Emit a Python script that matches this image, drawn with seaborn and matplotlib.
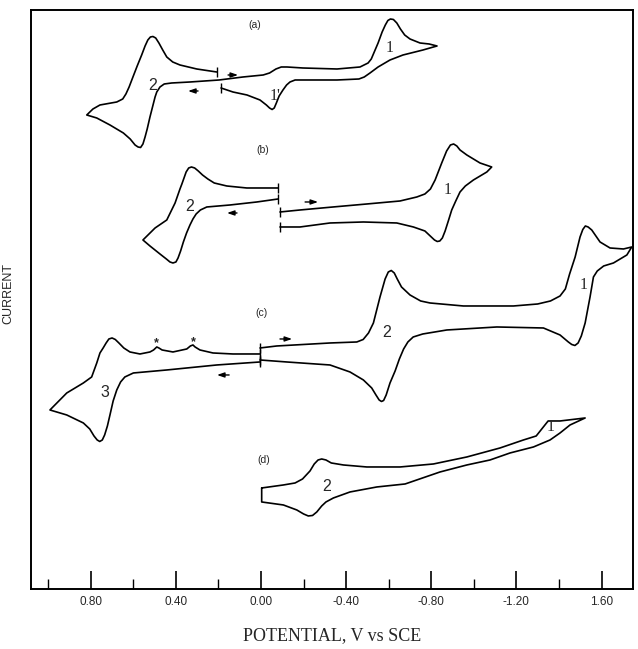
import matplotlib
matplotlib.use("Agg")
import matplotlib.pyplot as plt
import seaborn as sns

# Potentials (V vs SCE) and current (arbitrary units)

# (a) one continuous trace: lower-right branch -> peak 1 -> back -> wave 2 loop
a_E = [0.188, 0.132, 0.066, 0.005, -0.025, -0.040, -0.052, -0.062, -0.072, -0.085, -0.103,
       -0.120, -0.136, -0.160, -0.197,
       -0.357, -0.460, -0.485, -0.512, -0.550, -0.606, -0.667, -0.761, -0.810, -0.827,
       -0.790, -0.747, -0.700, -0.675, -0.655, -0.638, -0.622, -0.608, -0.596, -0.584,
       -0.569, -0.550, -0.536, -0.518, -0.503, -0.465,
       -0.357, -0.197, -0.122, -0.095, -0.070, -0.040, -0.010, 0.085, 0.197,
       0.334, 0.420, 0.455, 0.475, 0.490, 0.498, 0.510, 0.522, 0.535, 0.545, 0.555, 0.566, 0.578,
       0.592, 0.615, 0.647, 0.710, 0.772, 0.819,
       0.790, 0.757, 0.678, 0.650, 0.635, 0.620, 0.602, 0.582, 0.561, 0.545, 0.532, 0.520,
       0.508, 0.495, 0.480, 0.462, 0.443, 0.415, 0.381, 0.302, 0.208]
a_I = [50.1, 49.7, 49.4, 48.9, 48.4, 48.1, 47.95, 48.1, 48.6, 49.3, 49.9,
       50.4, 50.7, 50.9, 50.9,
       50.9, 51.0, 51.2, 51.6, 52.2, 52.9, 53.4, 53.9, 54.2, 54.3,
       54.5, 54.6, 55.0, 55.4, 56.0, 56.6, 56.95, 57.0, 56.85, 56.4,
       55.7, 54.6, 53.9, 53.0, 52.6, 52.2,
       52.0, 52.1, 52.2, 52.2, 52.0, 51.6, 51.4, 51.2, 50.9,
       50.7, 50.6, 50.5, 50.2, 49.7, 49.2, 48.2, 47.2, 46.0, 45.2, 44.5, 44.15, 44.2,
       44.4, 45.0, 45.6, 46.4, 47.1, 47.4,
       48.0, 48.4, 48.7, 49.0, 49.5, 50.2, 51.2, 52.3, 53.4, 54.3, 54.9, 55.2,
       55.25, 55.1, 54.6, 53.9, 53.2, 52.7, 52.4, 52.0, 51.7]

# (b) wave 2 segment
b1_E = [-0.080, 0.067, 0.161, 0.220, 0.250, 0.275, 0.295, 0.312, 0.327, 0.340, 0.352, 0.362,
        0.372, 0.381, 0.404, 0.443, 0.498, 0.555,
        0.522, 0.475, 0.445, 0.428, 0.414, 0.400, 0.390, 0.378, 0.365, 0.350, 0.334, 0.320,
        0.305, 0.285, 0.255, 0.146, 0.020, -0.080]
b1_I = [40.1, 40.1, 40.3, 40.6, 41.0, 41.4, 41.8, 42.1, 42.2, 42.1, 41.7, 41.1,
        40.5, 40.0, 38.6, 36.9, 36.1, 34.9,
        34.3, 33.5, 33.0, 32.7, 32.6, 32.7, 33.1, 33.8, 34.7, 35.6, 36.4, 37.0,
        37.5, 37.9, 38.2, 38.4, 38.7, 39.0]
# (b) wave 1 segment
b2_E = [-0.089, -0.183, -0.338, -0.497, -0.653, -0.732, -0.770, -0.796, -0.818, -0.849,
        -0.872, -0.890, -0.905, -0.920, -0.935, -0.967, -1.029, -1.084,
        -1.061, -0.998, -0.960, -0.935, -0.915, -0.896, -0.880, -0.865, -0.852, -0.840,
        -0.828, -0.815, -0.795, -0.770, -0.716, -0.638, -0.481, -0.324, -0.183, -0.089]
b2_I = [37.7, 37.9, 38.2, 38.5, 38.8, 39.2, 39.5, 40.0, 40.9, 42.6,
        43.8, 44.4, 44.5, 44.3, 43.9, 43.4, 42.6, 42.2,
        41.7, 40.9, 40.3, 39.7, 38.8, 37.9, 36.8, 35.8, 35.1, 34.8,
        34.75, 34.9, 35.3, 35.8, 36.2, 36.6, 36.7, 36.6, 36.2, 36.2]

# (c) anodic segment with wave 3 and the two small (*) waves
c1_E = [0.005, 0.132, 0.226, 0.287, 0.310, 0.320, 0.332, 0.349, 0.414, 0.465, 0.480, 0.490,
        0.505, 0.522, 0.569, 0.616, 0.645, 0.668, 0.685, 0.700, 0.715, 0.728, 0.742, 0.757,
        0.772, 0.796, 0.835, 0.913, 0.992,
        0.913, 0.835, 0.805, 0.785, 0.770, 0.758, 0.746, 0.735, 0.722, 0.710, 0.695, 0.678,
        0.660, 0.640, 0.600, 0.443, 0.208, 0.005]
c1_I = [23.5, 23.5, 23.6, 23.9, 24.2, 24.4, 24.3, 24.0, 23.7, 23.9, 24.1, 24.2,
        23.9, 23.7, 23.5, 23.7, 24.1, 24.6, 24.95, 25.1, 25.0, 24.6, 24.1, 23.6,
        22.6, 21.2, 20.6, 19.6, 17.9,
        17.4, 16.6, 16.0, 15.3, 14.9, 14.75, 14.9, 15.4, 16.3, 17.4, 18.8, 19.9,
        20.7, 21.2, 21.6, 21.9, 22.4, 22.7]
# (c) cathodic segment with waves 2 and 1
c2_E = [0.005, -0.074, -0.324, -0.450, -0.480, -0.505, -0.528, -0.559, -0.583, -0.598,
        -0.612, -0.626, -0.640, -0.660, -0.700, -0.750, -0.794, -0.951, -1.186, -1.300,
        -1.360, -1.405, -1.430, -1.450, -1.476, -1.499, -1.512, -1.524, -1.537, -1.554,
        -1.593, -1.640, -1.703, -1.742, -1.719, -1.656, -1.610, -1.580, -1.562, -1.546,
        -1.523, -1.505, -1.490, -1.475, -1.460, -1.444, -1.405, -1.327, -1.108, -0.873,
        -0.760, -0.715, -0.690, -0.670, -0.650, -0.630, -0.606, -0.588, -0.576, -0.566,
        -0.555, -0.540, -0.520, -0.481, -0.418, -0.324, -0.121, 0.005]
c2_I = [24.1, 24.3, 24.6, 24.7, 24.95, 25.6, 26.6, 29.2, 31.0, 31.7,
        31.85, 31.6, 31.0, 30.2, 29.4, 28.8, 28.6, 28.3, 28.3, 28.5,
        28.8, 29.3, 30.0, 31.5, 33.2, 35.2, 35.95, 36.3, 36.2, 35.9,
        34.7, 34.1, 34.0, 34.2, 33.4, 32.6, 32.3, 31.8, 31.2, 29.2,
        26.6, 25.3, 24.6, 24.35, 24.45, 24.7, 25.4, 26.1, 26.2, 25.9,
        25.5, 25.2, 24.7, 24.0, 23.0, 21.8, 20.6, 19.4, 18.85, 18.75,
        18.9, 19.4, 20.1, 20.9, 21.7, 22.4, 22.7, 22.9]

# (d) closed trace
d_E = [-0.003, -0.105, -0.160, -0.195, -0.230, -0.250, -0.268, -0.285, -0.305, -0.330,
       -0.387, -0.497, -0.653, -0.810, -0.967, -1.123, -1.233, -1.293, -1.349, -1.405,
       -1.523, -1.452, -1.405, -1.358, -1.280, -1.170, -1.076, -0.967, -0.841, -0.677,
       -0.544, -0.418, -0.340, -0.305, -0.285, -0.262, -0.242, -0.222, -0.200, -0.168,
       -0.105, -0.003, -0.003]
d_I = [10.1, 10.4, 10.6, 11.0, 11.8, 12.5, 12.9, 13.0, 12.9, 12.6,
       12.4, 12.2, 12.2, 12.5, 13.2, 14.1, 14.9, 15.3, 16.8, 16.8,
       17.1, 16.4, 15.6, 14.9, 14.2, 13.6, 12.9, 12.4, 11.7, 10.5,
       10.2, 9.7, 9.1, 8.7, 8.3, 7.7, 7.35, 7.3, 7.5, 7.9,
       8.4, 8.7, 10.1]

# panel letters and wave numbers
panel_text = ["(a)", "(b)", "(c)", "(d)"]
panel_E = [0.028, -0.008, -0.003, -0.011]
panel_I = [56.4, 43.9, 27.6, 12.9]

wave_text = ["2", "1", "1'", "2", "1", "3", "2", "1", "2", "1"]
wave_E = [0.508, -0.606, -0.066, 0.334, -0.879, 0.733, -0.591, -1.515, -0.309, -1.363]
wave_I = [50.3, 54.1, 49.3, 38.2, 39.9, 19.6, 25.6, 30.4, 10.2, 16.2]

star_E = [0.490, 0.318]
star_I = [24.6, 24.7]

# scan-direction arrows (tail E, head E, current)
arrow_tail = [0.155, 0.296, 0.113, -0.207, -0.089, 0.150]
arrow_head = [0.108, 0.343, 0.160, -0.268, -0.146, 0.207]
arrow_I = [51.4, 49.8, 37.6, 38.7, 25.0, 21.4]

major_ticks = [0.8, 0.4, 0.0, -0.4, -0.8, -1.2, -1.6]
major_labels = ["0.80", "0.40", "0.00", "-0.40", "-0.80", "-1.20", "1.60"]
minor_ticks = [1.0, 0.6, 0.2, -0.2, -0.6, -1.0, -1.4]

sns.set_theme(style="white")
plt.rcParams["font.family"] = ["Liberation Sans", "DejaVu Sans"]

fig = plt.figure(figsize=(6.38, 6.49), dpi=100)
ax = fig.add_axes([0.0486, 0.0925, 0.9436, 0.8921])

segments = [(a_E, a_I, True), (b1_E, b1_I, True), (b2_E, b2_I, True),
            (c1_E, c1_I, True), (c2_E, c2_I, True), (d_E, d_I, False)]
for E, I, ends in segments:
    sns.lineplot(x=E, y=I, sort=False, estimator=None, color="black", lw=1.2, ax=ax)
    if ends:
        ax.plot([E[0], E[-1]], [I[0], I[-1]], ls="none", marker="|", ms=7, mew=1.0, color="black")

for t, x, y in zip(panel_text, panel_E, panel_I):
    ax.text(x, y, t, ha="center", va="center", fontsize=7.5)

for t, x, y in zip(wave_text, wave_E, wave_I):
    fam = ["Liberation Serif"] if t.startswith("1") else ["Liberation Sans"]
    ax.text(x, y, t, ha="center", va="center", fontsize=11.5, family=fam)

for x, y in zip(star_E, star_I):
    ax.text(x, y, "*", ha="center", va="center", fontsize=9, fontweight="bold")

for x0, x1, y in zip(arrow_tail, arrow_head, arrow_I):
    ax.annotate("", xy=(x1, y), xytext=(x0, y),
                arrowprops=dict(arrowstyle="-|>,head_length=0.35,head_width=0.12",
                                lw=1.0, color="black", shrinkA=0, shrinkB=0))

ax.set_xlim(1.081, -1.748)
ax.set_ylim(0, 57.9)
ax.set_xticks(major_ticks, labels=major_labels)
ax.set_xticks(minor_ticks, minor=True)
ax.set_yticks([])
ax.tick_params(axis="x", which="major", direction="in", bottom=True, length=13,
               width=1.2, labelsize=8.5, pad=5, color="black")
ax.tick_params(axis="x", which="minor", direction="in", bottom=True, length=7,
               width=1.0, color="black")
for s in ax.spines.values():
    s.set_color("black")
    s.set_linewidth(1.4)

ax.set_xlabel("POTENTIAL, V vs SCE", family=["Liberation Serif"], fontsize=13, labelpad=14)
ax.set_ylabel("CURRENT", fontsize=9)
ax.yaxis.set_label_coords(-0.028, 0.51)

fig.savefig("out.png", dpi=100, facecolor="white")
